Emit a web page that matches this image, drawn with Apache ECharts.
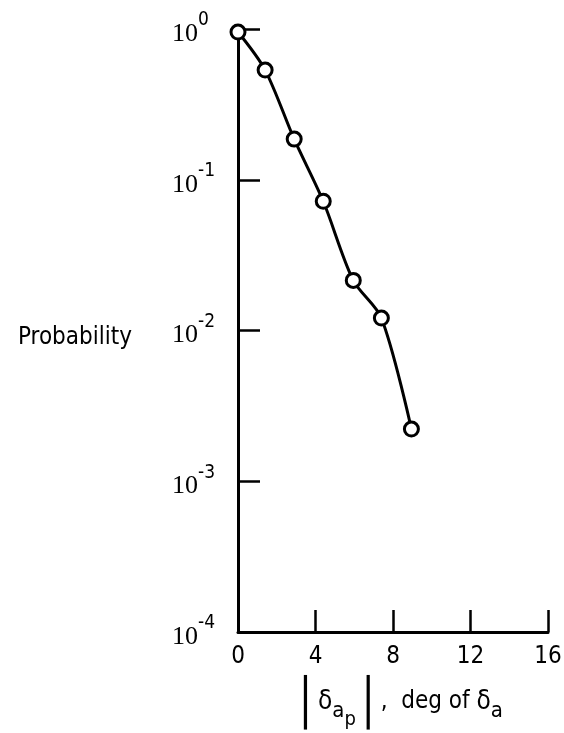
<!DOCTYPE html>
<html>
<head>
<meta charset="utf-8">
<script src="https://cdn.jsdelivr.net/npm/echarts@6/dist/echarts.min.js"></script>
<style>
html,body{margin:0;padding:0;background:#fff;}
#chart{width:564px;height:733px;}
</style>
</head>
<body>
<div id="chart"></div>
<script>
// Data
const xValues = [0, 1.4, 2.9, 4.4, 5.95, 7.4, 8.95];
const probValues = [0.955, 0.534, 0.186, 0.072, 0.0215, 0.0121, 0.00222];
const xTickValues = [0, 4, 8, 12, 16];
const yTickExponents = [-4, -3, -2, -1, 0];
const yAxisTitle = 'Probability';

const chart = echarts.init(document.getElementById('chart'), null, {renderer: 'canvas'});
const sans = '"DejaVu Sans Condensed", "Liberation Sans Narrow", "Liberation Sans", sans-serif';
const serif = '"Liberation Serif", "Times New Roman", serif';

const option = {
  backgroundColor: '#ffffff',
  animation: false,
  grid: {left: 238, right: 16, top: 29, bottom: 101, containLabel: false, outerBoundsMode: 'none'},
  xAxis: {
    type: 'value',
    min: xTickValues[0],
    max: xTickValues[xTickValues.length - 1],
    interval: 4,
    axisLine: {show: true, lineStyle: {color: '#000', width: 3}},
    axisTick: {show: true, inside: true, length: 22, lineStyle: {color: '#000', width: 2.5}},
    splitLine: {show: false},
    axisLabel: {
      margin: 13,
      fontFamily: sans, fontSize: 24, color: '#000',
      formatter: v => String(v)
    },
    nameLocation: 'middle',
    nameGap: 44,
    name: '{bar|\u2502}{d|\u03b4}{sub|a}{subsub|p}{bar|\u2502}{t|,  deg of }{d|\u03b4}{sub2|a}',
    nameTextStyle: {
      color: '#000',
      fontFamily: sans,
      padding: [0, 0, 0, 10],
      rich: {
        bar: {fontFamily: sans, fontSize: 46, color: '#000', verticalAlign: 'middle', lineHeight: 60},
        d: {fontFamily: sans, fontSize: 26, color: '#000', verticalAlign: 'middle', padding: [0, 0, 8, 0]},
        sub: {fontFamily: sans, fontSize: 22, color: '#000', verticalAlign: 'middle', padding: [10, 0, 0, 0]},
        subsub: {fontFamily: sans, fontSize: 20, color: '#000', verticalAlign: 'middle', padding: [28, 0, 0, 0]},
        sub2: {fontFamily: sans, fontSize: 22, color: '#000', verticalAlign: 'middle', padding: [10, 0, 0, 0]},
        t: {fontFamily: sans, fontSize: 24, color: '#000', verticalAlign: 'middle', padding: [0, 0, 8, 0]}
      }
    }
  },
  yAxis: {
    type: 'log',
    logBase: 10,
    min: Math.pow(10, yTickExponents[0]),
    max: Math.pow(10, yTickExponents[yTickExponents.length - 1]),
    axisLine: {show: true, lineStyle: {color: '#000', width: 3}},
    axisTick: {show: true, inside: true, length: 22, lineStyle: {color: '#000', width: 2.5}},
    minorTick: {show: false},
    splitLine: {show: false},
    axisLabel: {
      margin: 66,
      align: 'left',
      formatter: v => {
        const e = Math.round(Math.log10(v));
        return '{b|10}{s|' + e + '}';
      },
      rich: {
        b: {fontFamily: serif, fontSize: 26, color: '#000', verticalAlign: 'bottom', lineHeight: 36},
        s: {fontFamily: sans, fontSize: 19, color: '#000', verticalAlign: 'top', lineHeight: 22}
      }
    },
    name: yAxisTitle,
    nameLocation: 'middle',
    nameRotate: 0,
    nameGap: 106,
    nameTextStyle: {fontFamily: sans, fontSize: 24, color: '#000', align: 'right', verticalAlign: 'top', lineHeight: 14}
  },
  series: [{
    type: 'line',
    data: xValues.map((x, i) => [x, probValues[i]]),
    smooth: 0.3,
    symbol: 'circle',
    symbolSize: 14,
    showAllSymbol: true,
    lineStyle: {color: '#000', width: 3},
    itemStyle: {color: '#fff', borderColor: '#000', borderWidth: 3},
    z: 3
  }]
};
chart.setOption(option);
</script>
</body>
</html>
